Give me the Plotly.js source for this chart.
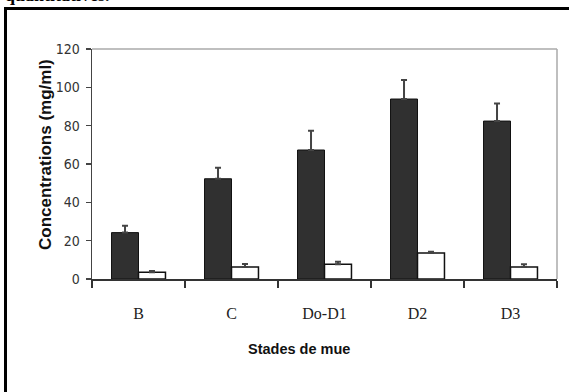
<!DOCTYPE html>
<html>
<head>
<meta charset="utf-8">
<script src="https://cdn.plot.ly/plotly-3.0.1.min.js"></script>
<style>
  html, body { margin: 0; padding: 0; background: #fff; }
  #chart { width: 569px; height: 392px; }
</style>
</head>
<body>
<div id="chart"></div>
<script>
// Data
const categories = ["B", "C", "Do-D1", "D2", "D3"];
const darkValues = [24.2, 52.3, 67.3, 93.9, 82.4];
const darkErrors = [3.6, 5.8, 10.1, 9.9, 9.2];
const whiteValues = [3.5, 6.3, 7.7, 13.6, 6.3];
const whiteErrors = [0.7, 1.5, 1.3, 0.6, 1.4];
const yTickValues = [0, 20, 40, 60, 80, 100, 120];

const W = 569, H = 392;
const M = { l: 92, r: 12, t: 49, b: 113 };
const pw = W - M.l - M.r, ph = H - M.t - M.b;
const px = x => (x - M.l) / pw;
const py = y => (H - M.b - y) / ph;

const zeros = categories.map(() => 0);

const traces = [
  {
    type: 'bar', x: categories, y: darkValues,
    marker: { color: '#303030', line: { color: '#111', width: 1 } },
    error_y: { type: 'data', symmetric: false, array: darkErrors, arrayminus: zeros,
               color: '#444', thickness: 2, width: 3 },
    hoverinfo: 'none', showlegend: false
  },
  {
    type: 'bar', x: categories, y: whiteValues,
    marker: { color: '#ffffff', line: { color: '#111', width: 1.5 } },
    error_y: { type: 'data', symmetric: false, array: whiteErrors, arrayminus: zeros,
               color: '#444', thickness: 2, width: 3 },
    hoverinfo: 'none', showlegend: false
  }
];

const layout = {
  width: W, height: H,
  margin: M,
  paper_bgcolor: '#fff', plot_bgcolor: '#fff',
  barmode: 'group', bargap: 0.42, bargroupgap: 0,
  showlegend: false,
  xaxis: {
    type: 'category',
    showgrid: false, zeroline: false,
    showline: true, linecolor: '#333', linewidth: 1.5,
    ticks: 'outside', tickson: 'boundaries', ticklen: 7, tickcolor: '#333', tickwidth: 1.5,
    ticklabelstandoff: 19,
    tickfont: { family: '"Liberation Serif", "Times New Roman", serif', size: 16, color: '#222' }
  },
  yaxis: {
    range: [0, 120],
    tickvals: yTickValues,
    ticktext: yTickValues.map(String),
    showgrid: false, zeroline: false,
    showline: true, linecolor: '#444', linewidth: 1.5,
    ticks: 'outside', ticklen: 5, tickcolor: '#444', tickwidth: 1.5,
    ticklabelstandoff: 3,
    tickfont: { family: '"DejaVu Sans Condensed", "Liberation Sans Narrow", Arial, sans-serif', size: 14, color: '#333' }
  },
  shapes: [
    // light grey plot-area border (top and right)
    { type: 'line', xref: 'paper', yref: 'paper', x0: 0, x1: 1, y0: 1, y1: 1,
      line: { color: '#aaaaaa', width: 1.5 } },
    { type: 'line', xref: 'paper', yref: 'paper', x0: 1, x1: 1, y0: 0, y1: 1,
      line: { color: '#aaaaaa', width: 1.5 } },
    // thick black outer frame (left and top)
    { type: 'line', xref: 'paper', yref: 'paper', x0: px(5.5), x1: px(5.5), y0: py(7), y1: py(400),
      line: { color: '#000', width: 3 } },
    { type: 'line', xref: 'paper', yref: 'paper', x0: px(4), x1: px(575), y0: py(8.5), y1: py(8.5),
      line: { color: '#000', width: 3 } }
  ],
  annotations: [
    { text: 'Concentrations (mg/ml)', xref: 'paper', yref: 'paper',
      x: px(45), y: py(155), textangle: -90, showarrow: false,
      xanchor: 'center', yanchor: 'middle',
      font: { family: '"Liberation Sans", Arial, sans-serif', size: 17, color: '#111', weight: 'bold' } },
    { text: 'Stades de mue', xref: 'paper', yref: 'paper',
      x: px(298.5), y: py(349), showarrow: false,
      xanchor: 'center', yanchor: 'middle',
      font: { family: '"Liberation Sans Narrow", "Liberation Sans", Arial, sans-serif', size: 14.5, color: '#111', weight: 'bold' } },
    { text: 'quantitatives.', xref: 'paper', yref: 'paper',
      x: px(3), y: py(7), showarrow: false,
      xanchor: 'left', yanchor: 'bottom',
      font: { family: '"Liberation Serif", "Times New Roman", serif', size: 18, color: '#000', weight: 'bold' } }
  ]
};

Plotly.newPlot('chart', traces, layout, { staticPlot: true, displayModeBar: false });
</script>
</body>
</html>
